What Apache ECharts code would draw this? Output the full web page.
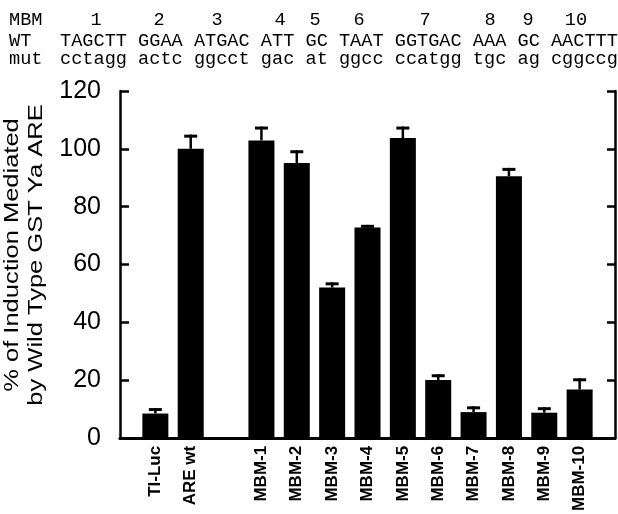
<!DOCTYPE html>
<html>
<head>
<meta charset="utf-8">
<script src="https://cdn.jsdelivr.net/npm/echarts@6/dist/echarts.min.js"></script>
<style>
html,body{margin:0;padding:0;background:#fff;}
#chart{width:618px;height:514px;}
</style>
</head>
<body>
<div id="chart"></div>
<script>
// ---- data ----
const categories = ['TI-Luc', 'ARE wt', '', 'MBM-1', 'MBM-2', 'MBM-3', 'MBM-4', 'MBM-5', 'MBM-6', 'MBM-7', 'MBM-8', 'MBM-9', 'MBM-10'];
const values = [8.4, 100, null, 102.9, 95.1, 52, 72.8, 103.7, 20, 8.9, 90.5, 8.7, 16.7];
const errors = [1.9, 4.9, null, 4.8, 4.4, 1.8, 0.9, 4.0, 2.0, 2.0, 2.9, 1.9, 3.9];
const yTickValues = [0, 20, 40, 60, 80, 100, 120];
const mbmNumbers = ['1', '2', '3', '4', '5', '6', '7', '8', '9', '10'];
const wtSeq = ['TAGCTT', 'GGAA', 'ATGAC', 'ATT', 'GC', 'TAAT', 'GGTGAC', 'AAA', 'GC', 'AACTTT'];
const mutSeq = ['cctagg', 'actc', 'ggcct', 'gac', 'at', 'ggcc', 'ccatgg', 'tgc', 'ag', 'cggccg'];
const yTitleLines = ['% of Induction Mediated', 'by Wild Type GST Ya ARE'];

// ---- layout ----
const numberX = [96, 159, 217, 280, 315, 359, 425, 490, 528, 576];
const monoFont = '"Liberation Mono", "Courier New", monospace';
const sansFont = '"Liberation Sans", Arial, Helvetica, sans-serif';

const xData = [''].concat(categories, ['']);
const barData = [null].concat(values, [null]);
const errData = [];
values.forEach((v, i) => { if (v != null) errData.push([i + 1, v, errors[i]]); });

const yMin = yTickValues[0], yMax = yTickValues[yTickValues.length - 1];
const yInterval = yTickValues[1] - yTickValues[0];

const graphics = [];
graphics.push({type: 'text', x: 9, y: 20, style: {text: 'MBM', font: '18.6px ' + monoFont, fill: '#000', verticalAlign: 'middle'}});
mbmNumbers.forEach((n, i) => {
  graphics.push({type: 'text', x: numberX[i], y: 20, style: {text: n, font: '18.6px ' + monoFont, fill: '#000', align: 'center', verticalAlign: 'middle'}});
});
graphics.push({type: 'text', x: 9, y: 41, style: {text: 'WT', font: '18.6px ' + monoFont, fill: '#000', verticalAlign: 'middle'}});
graphics.push({type: 'text', x: 60, y: 41, style: {text: wtSeq.join(' '), font: '18.6px ' + monoFont, fill: '#000', verticalAlign: 'middle'}});
graphics.push({type: 'text', x: 9, y: 59, style: {text: 'mut', font: '18.6px ' + monoFont, fill: '#000', verticalAlign: 'middle'}});
graphics.push({type: 'text', x: 60, y: 59, style: {text: mutSeq.join(' '), font: '18.6px ' + monoFont, fill: '#000', verticalAlign: 'middle'}});
const titleX = [12, 36];
yTitleLines.forEach((t, i) => {
  graphics.push({type: 'text', x: titleX[i], y: 255, rotation: Math.PI / 2, scaleY: 0.8,
    style: {text: t, font: '25.5px ' + sansFont, fill: '#000', align: 'center', verticalAlign: 'middle'}});
});

const chart = echarts.init(document.getElementById('chart'), null, {renderer: 'canvas'});
chart.setOption({
  animation: false,
  backgroundColor: '#fff',
  grid: {left: 120, right: 3, top: 91, bottom: 74, containLabel: false},
  xAxis: [{
    type: 'category', data: xData, boundaryGap: false, position: 'bottom',
    axisLine: {show: true, lineStyle: {color: '#000', width: 3}},
    axisTick: {show: false},
    axisLabel: {rotate: 90, interval: 0, margin: 8, color: '#000', fontSize: 17, fontWeight: 'bold', fontFamily: sansFont},
    splitLine: {show: false}
  }, {
    type: 'category', data: xData, boundaryGap: false, position: 'top',
    axisLine: {show: true, lineStyle: {color: '#000', width: 2.5}},
    axisTick: {show: false}, axisLabel: {show: false}, splitLine: {show: false}
  }],
  yAxis: [{
    type: 'value', min: yMin, max: yMax, interval: yInterval, position: 'left',
    axisLine: {show: true, lineStyle: {color: '#000', width: 2.5}},
    axisTick: {show: true, inside: true, length: 9, lineStyle: {color: '#000', width: 2.5}},
    axisLabel: {margin: 19, color: '#000', fontSize: 25, fontFamily: sansFont},
    splitLine: {show: false}
  }, {
    type: 'value', min: yMin, max: yMax, interval: yInterval, position: 'right',
    axisLine: {show: true, lineStyle: {color: '#000', width: 2.5}},
    axisTick: {show: true, inside: true, length: 8, lineStyle: {color: '#000', width: 2.5}},
    axisLabel: {show: false}, splitLine: {show: false}
  }],
  series: [{
    type: 'bar', data: barData, barWidth: 26, xAxisIndex: 0, yAxisIndex: 0,
    itemStyle: {color: '#000'}, z: 2
  }, {
    type: 'custom', data: errData, xAxisIndex: 0, yAxisIndex: 0, z: 3,
    encode: {x: 0, y: 1},
    renderItem: function (params, api) {
      const idx = api.value(0), v = api.value(1), e = api.value(2);
      const base = api.coord([idx, v]);
      const top = api.coord([idx, v + e]);
      return {type: 'group', children: [
        {type: 'line', shape: {x1: base[0], y1: base[1], x2: base[0], y2: top[1]}, style: {stroke: '#000', lineWidth: 2.5}},
        {type: 'line', shape: {x1: top[0] - 6.5, y1: top[1] + 1.5, x2: top[0] + 6.5, y2: top[1] + 1.5}, style: {stroke: '#000', lineWidth: 3}}
      ]};
    }
  }],
  graphic: graphics
});
</script>
</body>
</html>
